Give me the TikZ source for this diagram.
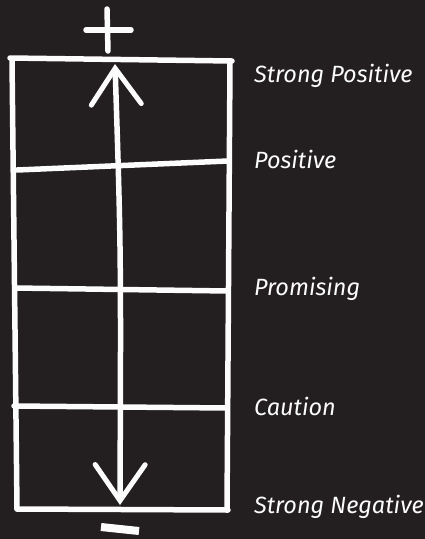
\documentclass[tikz,border=0pt]{standalone}
\usepackage{fontspec}
\newfontfamily\handfont{Fira Sans}
\usetikzlibrary{arrows.meta, calc}
\definecolor{board}{RGB}{35,31,32}
\definecolor{chalk}{RGB}{252,252,252}

\begin{document}
\begin{tikzpicture}[x=1pt, y=-1pt,
    stroke/.style={draw=chalk, line width=5.5pt, line cap=round, line join=round},
    >={Straight Barb[length=36pt, width=50pt, line width=5pt, line cap=round]},
    rating/.style={anchor=base west, text=chalk, inner sep=0pt,
                   font=\handfont\itshape\fontsize{23.5}{26}\selectfont}
]
    % Board
    \fill[board] (0,0) rectangle (425,539);
    \useasboundingbox (0,0) rectangle (425,539);

    % Frame
    \draw[stroke] (10,58) -- (232,61);
    \draw[stroke] (12,60) -- (17,509);
    \draw[stroke] (230,62) -- (227,510);
    \draw[stroke] (17,509) -- (228,510);

    % Rows
    \draw[stroke] (17,170) -- (228,161);
    \draw[stroke] (15,288) -- (228,291);
    \draw[stroke] (14,406) -- (227,408);

    % Scale arrow
    \coordinate (up) at (115,64);
    \coordinate (down) at (120,505);
    \draw[stroke, <->] (up) .. controls (121,250) .. (down);

    % Plus and minus
    \draw[stroke] (107,9) -- (108,51);
    \draw[stroke] (86,30) -- (131,30);
    \draw[chalk, line width=8pt] (101,527) -- (139,531);

    % Labels
    \node[rating] (strongpos) at (254,82) {Strong Positive};
    \node[rating] (pos) at (254,168) {Positive};
    \node[rating] (promising) at (254,295) {Promising};
    \node[rating] (caution) at (254,415) {Caution};
    \node[rating] (strongneg) at (254,513) {Strong Negative};
\end{tikzpicture}
\end{document}
